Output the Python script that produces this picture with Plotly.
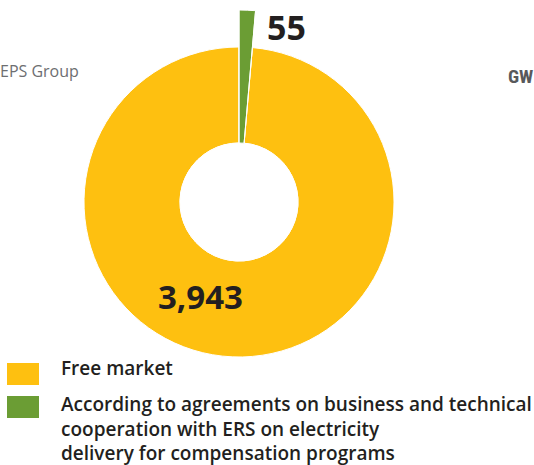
import plotly.graph_objects as go

W, H = 534, 465

categories = ["According to agreements on business and technical cooperation with ERS on electricity delivery for compensation programs", "Free market"]
values = [55, 3943]
value_labels = ["55", "3,943"]
legend_labels = ["Free market",
                 "According to agreements on business and technical<br>cooperation with ERS on electricity<br>delivery for compensation programs"]

YELLOW = "#FEC010"
GREEN = "#6B9D34"
TXT = "#231F20"

def px_dom(cx, cy, r):
    return dict(x=[(cx - r) / W, (cx + r) / W], y=[(H - cy - r) / H, (H - cy + r) / H])

fig = go.Figure()
# main donut (yellow)
fig.add_trace(go.Pie(
    labels=categories, values=values, sort=False, direction="clockwise", rotation=0,
    hole=59 / 155, domain=px_dom(239, 202, 155),
    marker=dict(colors=["rgba(0,0,0,0)", YELLOW], line=dict(color="white", width=1)),
    textinfo="none", hoverinfo="skip", showlegend=False,
))
# extended green slice
fig.add_trace(go.Pie(
    labels=categories, values=values, sort=False, direction="clockwise", rotation=0,
    hole=59 / 192, domain=px_dom(239, 202, 192),
    marker=dict(colors=[GREEN, "rgba(0,0,0,0)"], line=dict(color="white", width=1)),
    textinfo="none", hoverinfo="skip", showlegend=False,
))

font_main = "Open Sans"
ann = []
ann.append(dict(x=265 / W, y=1 - 27 / H, xref="paper", yref="paper", text="<b>" + value_labels[0] + "</b>",
                showarrow=False, xanchor="left", yanchor="middle", font=dict(size=34, color=TXT, family=font_main)))
ann.append(dict(x=200 / W, y=1 - 296 / H, xref="paper", yref="paper", text="<b>" + value_labels[1] + "</b>",
                showarrow=False, xanchor="center", yanchor="middle", font=dict(size=33, color=TXT, family=font_main)))
ann.append(dict(x=-2 / W, y=1 - 71 / H, xref="paper", yref="paper", text="EPS Group",
                showarrow=False, xanchor="left", yanchor="middle", font=dict(size=16, color="#6D6E71", family=font_main)))
ann.append(dict(x=535 / W, y=1 - 76 / H, xref="paper", yref="paper", text="<b>GW</b>",
                showarrow=False, xanchor="right", yanchor="middle", font=dict(size=19, color="#58595B", family="Roboto Condensed, Roboto")))
ann.append(dict(x=60 / W, y=1 - 368 / H, xref="paper", yref="paper", text=legend_labels[0],
                showarrow=False, xanchor="left", yanchor="middle", align="left", borderpad=0,
                font=dict(size=19, color=TXT, family=font_main, weight=600)))
ann.append(dict(x=60 / W, y=1 - 428 / H, xref="paper", yref="paper", text=legend_labels[1],
                showarrow=False, xanchor="left", yanchor="middle", align="left", borderpad=0,
                font=dict(size=19, color=TXT, family=font_main, weight=600)))

shapes = [
    dict(type="rect", xref="paper", yref="paper", x0=7 / W, x1=39 / W, y0=1 - 385 / H, y1=1 - 363 / H,
         fillcolor=YELLOW, line=dict(width=0)),
    dict(type="rect", xref="paper", yref="paper", x0=7 / W, x1=39 / W, y0=1 - 418 / H, y1=1 - 396 / H,
         fillcolor=GREEN, line=dict(width=0)),
]

fig.update_layout(width=W, height=H, margin=dict(l=0, r=0, t=0, b=0),
                  paper_bgcolor="white", plot_bgcolor="white",
                  annotations=ann, shapes=shapes, showlegend=False)
fig.write_html("out.html", config={"displayModeBar": False},
               post_script="document.body.style.margin='0';document.body.style.overflow='hidden';")
